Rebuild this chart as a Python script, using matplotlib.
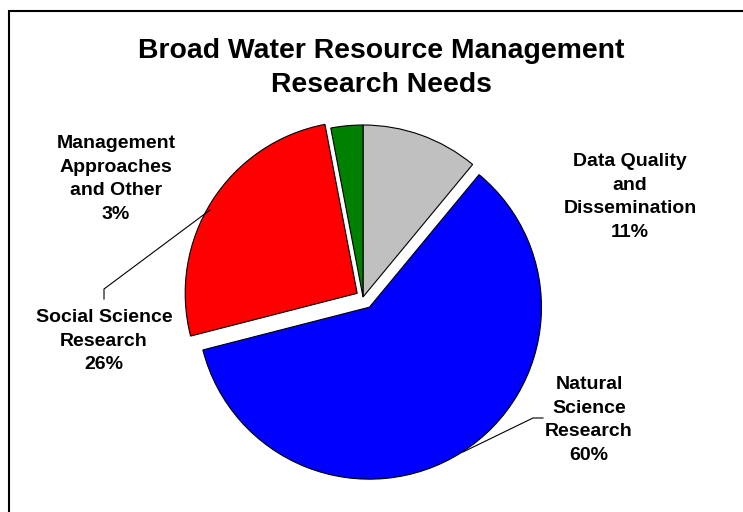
import matplotlib
matplotlib.use("Agg")
import matplotlib.pyplot as plt
from matplotlib.patches import Rectangle

# ---- data ----
categories = ["Data Quality\nand\nDissemination", "Natural\nScience\nResearch",
              "Social Science\nResearch", "Management\nApproaches\nand Other"]
values = [11, 60, 26, 3]
colors = ["#C0C0C0", "#0000FF", "#FF0000", "#008000"]
explode = [0.0, 0.07, 0.04, 0.0]
title = "Broad Water Resource Management\nResearch Needs"

W, H = 743, 512
plt.rcParams['font.family'] = ['Liberation Sans', 'DejaVu Sans']
fig = plt.figure(figsize=(W / 100, H / 100), dpi=100)

# pixel geometry of the pie
cx, cy, R = 363, 297, 172
ax = fig.add_axes([0, 0, 1, 1])

def P(px, py):
    return (px - cx) / R, (cy - py) / R

wedges, _ = ax.pie(values, colors=colors, explode=explode, startangle=90,
                   counterclock=False, radius=1.0,
                   wedgeprops=dict(edgecolor='black', linewidth=0.8))
ax.set_aspect('auto')
ax.set_xlim((0 - cx) / R, (W - cx) / R)
ax.set_ylim((cy - H) / R, (cy - 0) / R)
ax.axis('off')

# labels
label_pos = [(630, 197), (589, 420), (104, 341), (116, 179)]
for cat, v, (px, py) in zip(categories, values, label_pos):
    x, y = P(px, py)
    ax.text(x, y, f"{cat}\n{v}%", ha='center', va='center', fontsize=14,
            fontweight='bold', linespacing=1.53)

# leader lines
for pts in ([(104, 299), (104, 289), (210, 210)],
            [(543, 418), (533, 418), (463, 452)]):
    xs, ys = zip(*[P(a, b) for a, b in pts])
    ax.plot(xs, ys, color='black', linewidth=0.8)

fig.text(381 / W, 1 - 68 / H, title, ha='center', va='center', fontsize=20.4,
         fontweight='bold', linespacing=1.36)

# border
fig.patches.append(Rectangle((9 / W, -0.1), 1.2, 1 - 11 / H + 0.1,
                             transform=fig.transFigure, fill=False,
                             edgecolor='black', linewidth=1.5))

fig.savefig("out.png", dpi=100)
